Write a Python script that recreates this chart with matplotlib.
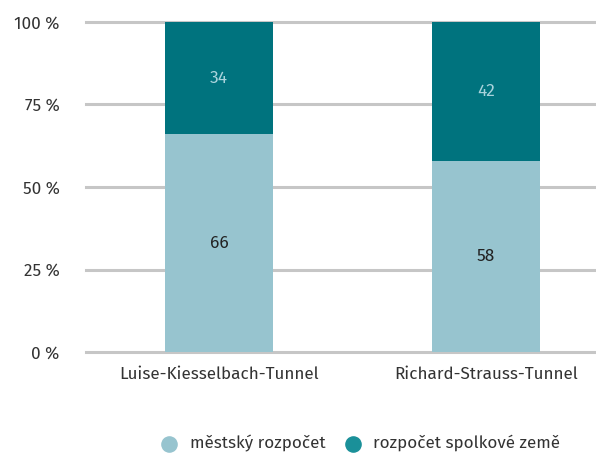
import numpy as np
import matplotlib.pyplot as plt

categories = ['Luise-Kiesselbach-Tunnel', 'Richard-Strauss-Tunnel']
mestsky = [66, 58]
spolkove = [34, 42]
series_names = ['městský rozpočet', 'rozpočet spolkové země']
yticks = [0, 25, 50, 75, 100]

light = '#97c4cf'
dark = '#00737e'

plt.rcParams['font.family'] = ['Fira Sans', 'Noto Sans', 'DejaVu Sans']

fig = plt.figure(figsize=(5.96, 4.57), dpi=100)
ax = fig.add_axes([86 / 596, 1 - 352 / 457, 510 / 596, 330 / 457])

x = np.arange(len(categories))
w = 0.404
ax.bar(x, mestsky, w, color=light, zorder=3)
ax.bar(x, spolkove, w, bottom=mestsky, color=dark, zorder=3)

for i in range(len(categories)):
    ax.text(x[i], mestsky[i] / 2, str(mestsky[i]), ha='center', va='center',
            fontsize=12.5, color='#222222', zorder=4)
    ax.text(x[i], mestsky[i] + spolkove[i] / 2, str(spolkove[i]), ha='center', va='center',
            fontsize=12.5, color='#a9d3dc', zorder=4)

ax.set_xlim(-0.498, 1.412)
ax.set_ylim(0, 100)
ax.set_yticks(yticks)
ax.set_yticklabels([f'{t} %' for t in yticks])
ax.set_xticks(x)
ax.set_xticklabels(categories)
ax.yaxis.grid(True, color='#c6c6c6', linewidth=2.2, zorder=0)
for gl in ax.get_ygridlines():
    gl.set_clip_on(False)
ax.tick_params(length=0, labelsize=12.3, colors='#333333')
ax.tick_params(axis='y', pad=19)
ax.tick_params(axis='x', pad=10)
for s in ax.spines.values():
    s.set_visible(False)

h1 = ax.scatter([], [], s=120, color=light, label=series_names[0])
h2 = ax.scatter([], [], s=120, color='#1a9099', label=series_names[1])
fig.legend(handles=[h1, h2], loc='center', bbox_to_anchor=(356 / 596, 1 - 443 / 457),
           ncol=2, frameon=False, fontsize=12.3, handletextpad=0.2, columnspacing=0.6,
           labelcolor='#333333')

plt.savefig('out.png', dpi=100)
